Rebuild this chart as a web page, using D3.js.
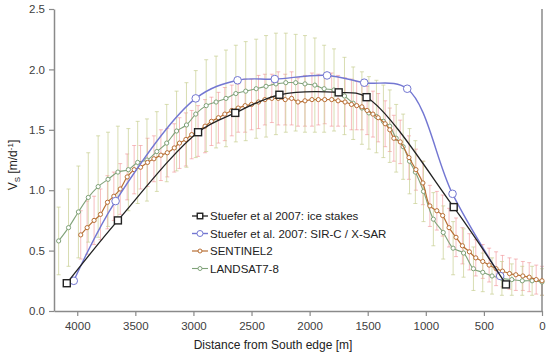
<!DOCTYPE html>
<html>
<head>
<meta charset="utf-8">
<script src="https://cdn.jsdelivr.net/npm/d3@7"></script>
<style>
  body { margin: 0; background: #fff; }
  svg { display: block; font-family: "Liberation Sans", Arial, sans-serif; }
</style>
</head>
<body>
<figure id="chart" style="margin:0"></figure>
<script>
// ice stakes (Stuefer et al 2007)
const stakesDist = [4090, 3650, 2960, 2640, 2260, 1750, 1510, 760, 310];
const stakesVel = [0.23, 0.75, 1.48, 1.64, 1.79, 1.81, 1.77, 0.86, 0.22];

// SIR-C / X-SAR (Stuefer et al. 2007)
const sarDist = [4030, 3670, 2980, 2620, 2300, 1850, 1530, 1160, 770, 360];
const sarVel = [0.25, 0.91, 1.76, 1.91, 1.92, 1.95, 1.89, 1.84, 0.97, 0.29];

// SENTINEL2
const s2Dist = [3970, 3915, 3855, 3800, 3740, 3685, 3630, 3570, 3510, 3455,
  3395, 3340, 3280, 3225, 3165, 3120, 3065, 3015, 2960, 2900,
  2845, 2785, 2730, 2670, 2615, 2555, 2500, 2440, 2385, 2325,
  2270, 2210, 2155, 2100, 2040, 1980, 1925, 1870, 1810, 1755,
  1695, 1640, 1595, 1550, 1505, 1455, 1410, 1350, 1310, 1275,
  1220, 1145, 1085, 1025, 965, 905, 855, 800, 740, 685,
  625, 570, 510, 455, 395, 340, 280, 225, 165, 110,
  50, 0];
const s2Vel = [0.63, 0.69, 0.75, 0.80, 0.90, 0.95, 1.01, 1.11, 1.17, 1.19,
  1.23, 1.26, 1.29, 1.31, 1.35, 1.39, 1.42, 1.46, 1.49, 1.53,
  1.57, 1.60, 1.63, 1.66, 1.68, 1.70, 1.71, 1.73, 1.75, 1.76,
  1.76, 1.75, 1.76, 1.73, 1.74, 1.75, 1.75, 1.75, 1.75, 1.74,
  1.73, 1.71, 1.70, 1.69, 1.66, 1.63, 1.60, 1.55, 1.50, 1.43,
  1.40, 1.27, 1.17, 1.06, 0.87, 0.83, 0.79, 0.69, 0.61, 0.54,
  0.49, 0.44, 0.41, 0.38, 0.35, 0.33, 0.31, 0.30, 0.29, 0.28,
  0.26, 0.25];
const s2Err = [0.20, 0.22, 0.20, 0.21, 0.22, 0.20, 0.21, 0.19, 0.20, 0.18,
  0.20, 0.19, 0.21, 0.20, 0.20, 0.21, 0.22, 0.20, 0.21, 0.22,
  0.20, 0.21, 0.22, 0.21, 0.20, 0.22, 0.21, 0.22, 0.21, 0.20,
  0.22, 0.21, 0.22, 0.20, 0.21, 0.22, 0.21, 0.20, 0.22, 0.21,
  0.20, 0.21, 0.20, 0.19, 0.20, 0.19, 0.20, 0.19, 0.18, 0.19,
  0.18, 0.18, 0.17, 0.18, 0.17, 0.16, 0.17, 0.16, 0.16, 0.15,
  0.15, 0.15, 0.14, 0.14, 0.14, 0.13, 0.13, 0.13, 0.12, 0.12,
  0.12, 0.12];

// LANDSAT7-8
const lsDist = [4160, 4075, 3990, 3905, 3820, 3735, 3650, 3560, 3480, 3400,
  3315, 3230, 3145, 3060, 2980, 2890, 2805, 2720, 2635, 2550,
  2460, 2375, 2290, 2205, 2120, 2040, 1955, 1875, 1790, 1700,
  1625, 1550, 1490, 1425, 1365, 1310, 1255, 1195, 1140, 1090,
  1020, 935, 850, 765, 675, 590, 510, 430, 345, 260,
  170, 85, 0];
const lsVel = [0.58, 0.69, 0.82, 0.94, 1.03, 1.09, 1.15, 1.17, 1.23, 1.25,
  1.32, 1.39, 1.49, 1.54, 1.63, 1.70, 1.73, 1.76, 1.80, 1.82,
  1.84, 1.86, 1.88, 1.89, 1.89, 1.88, 1.87, 1.84, 1.83, 1.78,
  1.72, 1.68, 1.64, 1.61, 1.57, 1.53, 1.43, 1.36, 1.24, 1.15,
  0.99, 0.76, 0.65, 0.52, 0.48, 0.35, 0.32, 0.29, 0.27, 0.26,
  0.25, 0.25, 0.24];
const lsErr = [0.28, 0.32, 0.38, 0.37, 0.42, 0.39, 0.38, 0.34, 0.34, 0.34,
  0.33, 0.32, 0.33, 0.35, 0.36, 0.38, 0.38, 0.40, 0.40, 0.41,
  0.41, 0.42, 0.42, 0.41, 0.40, 0.40, 0.39, 0.36, 0.34, 0.32,
  0.30, 0.30, 0.30, 0.30, 0.30, 0.30, 0.28, 0.27, 0.27, 0.26,
  0.25, 0.22, 0.22, 0.22, 0.20, 0.18, 0.16, 0.15, 0.14, 0.13,
  0.12, 0.12, 0.11];

const xTicks = [4000, 3500, 3000, 2500, 2000, 1500, 1000, 500, 0];
const yTicks = [0, 0.5, 1.0, 1.5, 2.0, 2.5];

const width = 550, height = 358;
const margin = { top: 9, right: 8, bottom: 47, left: 54 };

const svg = d3.select("figure#chart")
  .append("svg")
  .attr("width", width)
  .attr("height", height);

const x = d3.scaleLinear().domain([4200, 0]).range([margin.left, width - margin.right]);
const y = d3.scaleLinear().domain([0, 2.5]).range([height - margin.bottom, margin.top]);

const zip = (ds, vs, es) => ds.map((d, i) => ({ d: d, v: vs[i], e: es ? es[i] : 0 }));

const stakes = zip(stakesDist, stakesVel);
const sar = zip(sarDist, sarVel);
const s2 = zip(s2Dist, s2Vel, s2Err);
const ls = zip(lsDist, lsVel, lsErr);

const line = d3.line()
  .x(d => x(d.d))
  .y(d => y(d.v))
  .curve(d3.curveCatmullRom.alpha(0.5));

// error bars
function errorBars(data, color, cls) {
  const g = svg.append("g").attr("class", cls)
    .attr("stroke", color)
    .attr("stroke-width", 1);
  g.selectAll("line.bar")
    .data(data)
    .enter()
    .append("line")
    .attr("x1", d => x(d.d)).attr("x2", d => x(d.d))
    .attr("y1", d => y(d.v - d.e)).attr("y2", d => y(d.v + d.e));
  g.selectAll("line.capTop")
    .data(data)
    .enter()
    .append("line")
    .attr("x1", d => x(d.d) - 2).attr("x2", d => x(d.d) + 2)
    .attr("y1", d => y(d.v + d.e)).attr("y2", d => y(d.v + d.e));
  g.selectAll("line.capBot")
    .data(data)
    .enter()
    .append("line")
    .attr("x1", d => x(d.d) - 2).attr("x2", d => x(d.d) + 2)
    .attr("y1", d => y(d.v - d.e)).attr("y2", d => y(d.v - d.e));
}

errorBars(s2, "rgba(240,125,130,0.5)", "s2-err");
errorBars(ls, "rgba(200,206,145,0.7)", "ls-err");

// axes
const axisColor = "#8a8a8a";
const tickColor = "#404040";

const xAxis = svg.append("g")
  .attr("transform", "translate(0," + y(0) + ")")
  .call(d3.axisBottom(x).tickValues(xTicks).tickSize(5).tickPadding(6).tickSizeOuter(0).tickFormat(d3.format("d")));
const yAxis = svg.append("g")
  .attr("transform", "translate(" + margin.left + ",0)")
  .call(d3.axisLeft(y).tickValues(yTicks).tickSize(5).tickPadding(4).tickSizeOuter(0).tickFormat(d3.format(".1f")));

[xAxis, yAxis].forEach(a => {
  a.select(".domain").attr("stroke", axisColor).attr("stroke-width", 1.5);
  a.selectAll(".tick line").attr("stroke", axisColor).attr("stroke-width", 1.2);
  a.selectAll(".tick text").attr("fill", tickColor).style("font-size", "11.5px");
});

svg.append("line")
  .attr("x1", width - margin.right).attr("x2", width - margin.right)
  .attr("y1", y(2.5)).attr("y2", y(0))
  .attr("stroke", axisColor).attr("stroke-width", 1.5);

svg.append("text")
  .attr("x", 273).attr("y", 349)
  .attr("text-anchor", "middle")
  .attr("fill", "#222")
  .style("font-size", "12px")
  .text("Distance from South edge [m]");

const yl = svg.append("text")
  .attr("transform", "translate(17,165) rotate(-90)")
  .attr("text-anchor", "middle")
  .attr("fill", "#222")
  .style("font-size", "12px");
yl.append("tspan").text("V");
yl.append("tspan").attr("dy", 3).style("font-size", "8px").text("S");
yl.append("tspan").attr("dy", -3).text(" [m/d");
yl.append("tspan").attr("dy", -4).style("font-size", "8px").text("-1");
yl.append("tspan").attr("dy", 4).text("]");

// series
const series = [
  { name: "Stuefer et al 2007: ice stakes", data: stakes, color: "#222222", width: 1.3, marker: "square", size: 7, lsize: 5.5 },
  { name: "Stuefer et al. 2007: SIR-C / X-SAR", data: sar, color: "#7377d2", width: 1.4, marker: "circle", size: 3.8, lsize: 3 },
  { name: "SENTINEL2", data: s2, color: "#b86f35", width: 1.2, marker: "circle", size: 2.1, lsize: 2 },
  { name: "LANDSAT7-8", data: ls, color: "#80a279", width: 1.1, marker: "circle", size: 2.1, lsize: 2 }
];

function drawMarker(g, s, px, py, size) {
  if (s.marker === "square") {
    g.append("rect")
      .attr("x", px - size / 2).attr("y", py - size / 2)
      .attr("width", size).attr("height", size)
      .attr("fill", "#fff").attr("stroke", s.color).attr("stroke-width", 1.4);
  } else {
    g.append("circle")
      .attr("cx", px).attr("cy", py).attr("r", size)
      .attr("fill", "#fff").attr("stroke", s.color).attr("stroke-width", 1);
  }
}

// draw order: landsat, sentinel, sar, stakes
series.slice().reverse().forEach(s => {
  const g = svg.append("g");
  g.append("path")
    .datum(s.data)
    .attr("d", line)
    .attr("fill", "none")
    .attr("stroke", s.color)
    .attr("stroke-width", s.width);
  s.data.forEach(d => drawMarker(g, s, x(d.d), y(d.v), s.size));
});

// legend
const legend = svg.append("g").attr("class", "legend");
series.forEach((s, i) => {
  const ly = 216 + i * 17.5;
  const g = legend.append("g");
  g.append("line")
    .attr("x1", 192).attr("x2", 208)
    .attr("y1", ly).attr("y2", ly)
    .attr("stroke", s.color).attr("stroke-width", s.width);
  drawMarker(g, s, 200, ly, s.lsize);
  g.append("text")
    .attr("x", 210).attr("y", ly + 4)
    .attr("fill", "#222")
    .style("font-size", "11.5px")
    .text(s.name);
});
</script>
</body>
</html>
